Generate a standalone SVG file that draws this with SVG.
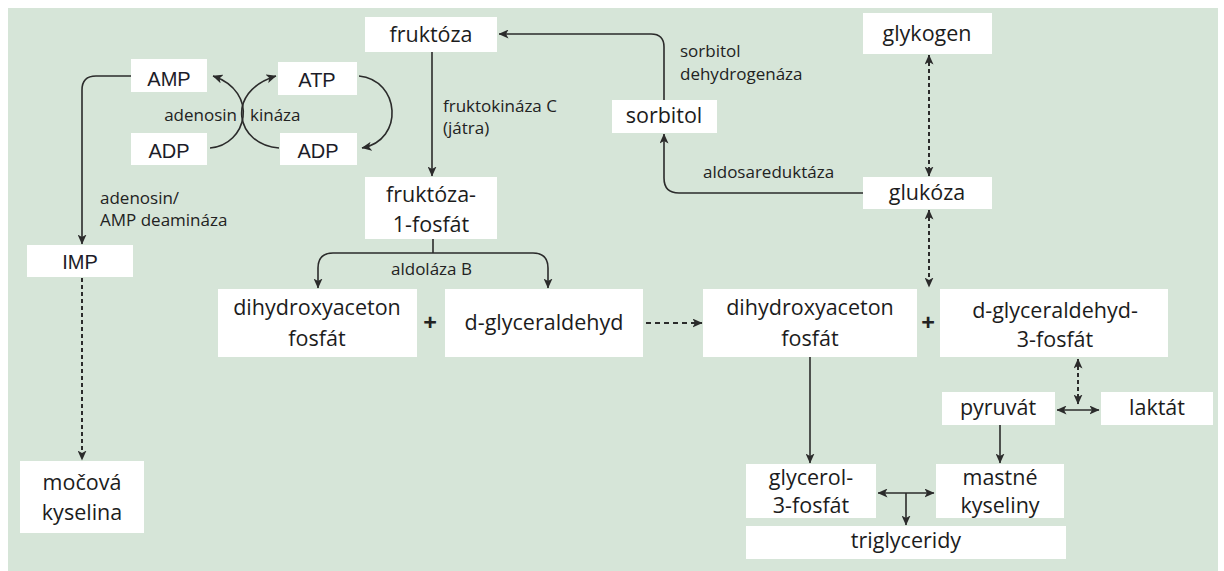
<svg xmlns="http://www.w3.org/2000/svg" width="1224" height="571" viewBox="0 0 1224 571">
<style>
.box{fill:#ffffff}
.n{font-family:"Open Sans","Liberation Sans",sans-serif;font-size:21.5px;fill:#1c1c1c;text-anchor:middle}
.a{font-family:"Liberation Sans",Arial,sans-serif;font-size:20px;fill:#1c1c28;text-anchor:middle}
.l{font-family:"Open Sans","Liberation Sans",sans-serif;font-size:17px;fill:#222}
.plus{font-family:"Open Sans","Liberation Sans",sans-serif;font-size:24px;font-weight:bold;fill:#222;text-anchor:middle}
.c{fill:none;stroke:#2b2b2b;stroke-width:1.6}
.d{fill:none;stroke:#2b2b2b;stroke-width:2;stroke-dasharray:4 3}
.dd{fill:none;stroke:#2b2b2b;stroke-width:1.8;stroke-dasharray:5 4}
</style>
<defs>
<marker id="ah" viewBox="0 0 10 9" refX="9.5" refY="4.5" markerWidth="10" markerHeight="9" markerUnits="userSpaceOnUse" orient="auto-start-reverse">
<path d="M0,0 L10,4.5 L0,9 L2.5,4.5 z" fill="#2b2b2b"/>
</marker>
</defs>
<rect x="0" y="0" width="1224" height="571" fill="#ffffff"/>
<rect x="8" y="8" width="1210" height="563" fill="#d6e5d8"/>

<g id="connectors">
<path class="c" d="M131,76 H96 Q82,76 82,90 V244" marker-end="url(#ah)"/>
<path class="d" d="M82,278 V460" marker-end="url(#ah)"/>
<path class="c" d="M210,148 C247,145 260,92 213,76" marker-end="url(#ah)"/>
<path class="c" d="M279,148 C236,145 224,92 276,76" marker-end="url(#ah)"/>
<path class="c" d="M359,76 C400,80 405,140 362,148" marker-end="url(#ah)"/>
<path class="c" d="M432,52 V176" marker-end="url(#ah)"/>
<path class="c" d="M664,100 V47 Q664,34 651,34 H499" marker-end="url(#ah)"/>
<path class="c" d="M863,193 H679 Q664,193 664,178 V134" marker-end="url(#ah)"/>
<path class="d" d="M929,55 V176" marker-start="url(#ah)" marker-end="url(#ah)"/>
<path class="d" d="M929,210 V287" marker-start="url(#ah)" marker-end="url(#ah)"/>
<path class="c" d="M433,239 V253"/>
<path class="c" d="M433,253 H333 Q318,253 318,268 V288" marker-end="url(#ah)"/>
<path class="c" d="M433,253 H533 Q548,253 548,268 V288" marker-end="url(#ah)"/>
<path class="dd" d="M646,323 H702" marker-end="url(#ah)"/>
<path class="c" d="M810,357 V463" marker-end="url(#ah)"/>
<path class="d" d="M1078,359 V404" marker-start="url(#ah)" marker-end="url(#ah)"/>
<path class="c" d="M1057,410 H1099" marker-start="url(#ah)" marker-end="url(#ah)"/>
<path class="c" d="M1000,425 V463" marker-end="url(#ah)"/>
<path class="c" d="M878,493 H934" marker-start="url(#ah)" marker-end="url(#ah)"/>
<path class="c" d="M906,493 V525" marker-end="url(#ah)"/>
</g>

<g id="labels">
<text class="l" x="237" y="121" text-anchor="end">adenosin</text>
<text class="l" x="250" y="121">kináza</text>
<text class="l" x="100" y="204">adenosin/</text>
<text class="l" x="100" y="226">AMP deamináza</text>
<text class="l" x="443" y="112">fruktokináza C</text>
<text class="l" x="443" y="134">(játra)</text>
<text class="l" x="680" y="57">sorbitol</text>
<text class="l" x="680" y="80">dehydrogenáza</text>
<text class="l" x="703" y="178">aldosareduktáza</text>
<text class="l" x="391" y="275">aldoláza B</text>
<text class="plus" x="430" y="331">+</text>
<text class="plus" x="928" y="331">+</text>
</g>

<g id="AMP"><rect class="box" x="131" y="59" width="76" height="33"/><text class="a" x="169" y="86">AMP</text></g>
<g id="ATP"><rect class="box" x="278" y="62" width="79" height="33"/><text class="a" x="317" y="87">ATP</text></g>
<g id="ADP1"><rect class="box" x="131" y="133" width="76" height="32"/><text class="a" x="169" y="158">ADP</text></g>
<g id="ADP2"><rect class="box" x="280" y="133" width="77" height="32"/><text class="a" x="318" y="158">ADP</text></g>
<g id="IMP"><rect class="box" x="27" y="245" width="106" height="32"/><text class="a" x="80" y="269">IMP</text></g>
<g id="kyselina"><rect class="box" x="20" y="461" width="124" height="72"/><text class="n" x="82" y="490">močová</text><text class="n" x="82" y="520">kyselina</text></g>
<g id="fruktoza"><rect class="box" x="365" y="17" width="132" height="35"/><text class="n" x="431" y="42">fruktóza</text></g>
<g id="f1p"><rect class="box" x="365" y="177" width="132" height="62"/><text class="n" x="431" y="202">fruktóza-</text><text class="n" x="431" y="232">1-fosfát</text></g>
<g id="sorbitol"><rect class="box" x="612" y="100" width="105" height="33"/><text class="n" x="664" y="123">sorbitol</text></g>
<g id="glykogen"><rect class="box" x="863" y="13" width="129" height="41"/><text class="n" x="927" y="41">glykogen</text></g>
<g id="glukoza"><rect class="box" x="863" y="177" width="129" height="32"/><text class="n" x="927" y="200">glukóza</text></g>
<g id="dhap1"><rect class="box" x="218" y="289" width="199" height="68"/><text class="n" x="317" y="315">dihydroxyaceton</text><text class="n" x="317" y="346">fosfát</text></g>
<g id="dga"><rect class="box" x="445" y="289" width="198" height="68"/><text class="n" x="544" y="330">d-glyceraldehyd</text></g>
<g id="dhap2"><rect class="box" x="703" y="289" width="214" height="68"/><text class="n" x="810" y="315">dihydroxyaceton</text><text class="n" x="810" y="346">fosfát</text></g>
<g id="dga3p"><rect class="box" x="940" y="289" width="228" height="68"/><text class="n" x="1055" y="318">d-glyceraldehyd-</text><text class="n" x="1055" y="347">3-fosfát</text></g>
<g id="pyruvat"><rect class="box" x="942" y="392" width="113" height="33"/><text class="n" x="998" y="415">pyruvát</text></g>
<g id="laktat"><rect class="box" x="1101" y="392" width="112" height="33"/><text class="n" x="1157" y="415">laktát</text></g>
<g id="g3p"><rect class="box" x="746" y="464" width="130" height="54"/><text class="n" x="811" y="485">glycerol-</text><text class="n" x="811" y="513">3-fosfát</text></g>
<g id="mastne"><rect class="box" x="936" y="464" width="128" height="54"/><text class="n" x="1000" y="485">mastné</text><text class="n" x="1000" y="513">kyseliny</text></g>
<g id="triglyceridy"><rect class="box" x="746" y="526" width="320" height="33"/><text class="n" x="906" y="548">triglyceridy</text></g>
</svg>
